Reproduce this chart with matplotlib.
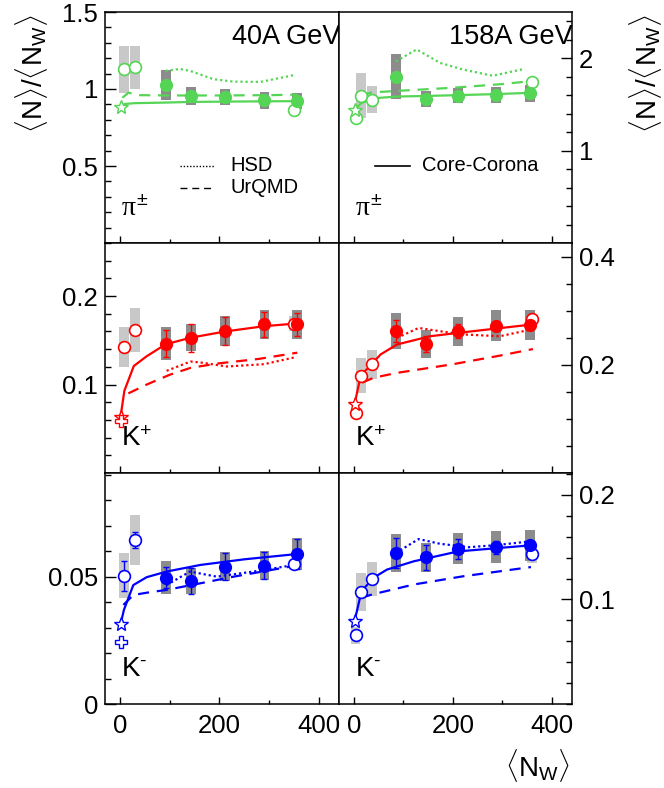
import matplotlib
matplotlib.use("Agg")
import matplotlib.pyplot as plt
from matplotlib.ticker import FixedLocator, MultipleLocator

plt.rcParams['font.family'] = ['Liberation Sans', 'DejaVu Sans']
plt.rcParams['mathtext.fontset'] = 'custom'
plt.rcParams['mathtext.rm'] = 'Liberation Sans'
plt.rcParams['mathtext.it'] = 'Liberation Serif'

GREEN = '#55d555'
RED = '#ff0000'
BLUE = '#0000ff'
LIGHT = '#c8c8c8'
DARK = '#8c8c8c'

# ---- data: central Pb+Pb (filled), small systems (open), p+p (star/cross)
x_pb40 = [92, 143, 212, 291, 356]
x_pb158 = [85, 146, 211, 288, 357]
x_small40 = [8, 30]
x_small158 = [14.8, 37]
x_pp = 1.4

# pions 40A GeV
pi40_y = [1.026, 0.954, 0.947, 0.926, 0.921]
pi40_sys = [0.10, 0.06, 0.053, 0.053, 0.05]
pi40_small_y = [1.128, 1.14]
pi40_small_sys = [0.152, 0.14]
pi40_open_x = [350]
pi40_open_y = [0.866]
pi40_pp = 0.882
cc40_pi_x = [1.4, 10, 30, 94, 141, 212, 291, 356]
cc40_pi_y = [0.882, 0.903, 0.908, 0.912, 0.916, 0.918, 0.92, 0.921]
urqmd40_pi_x = [5, 17, 40, 100, 200, 300, 357]
urqmd40_pi_y = [0.943, 0.976, 0.96, 0.958, 0.958, 0.96, 0.963]
hsd40_pi_x = [92, 121, 141, 188, 228, 283, 350]
hsd40_pi_y = [1.118, 1.13, 1.118, 1.064, 1.048, 1.046, 1.09]

# pions 158A GeV
pi158_y = [1.80, 1.56, 1.595, 1.605, 1.62]
pi158_sys = [0.245, 0.09, 0.085, 0.085, 0.093]
pi158_small_y = [1.595, 1.55]
pi158_small_sys = [0.24, 0.145]
pi158_open_x = [3.4, 360]
pi158_open_y = [1.35, 1.74]
pi158_pp = 1.44
cc158_pi_x = [1.4, 15, 37, 87, 150, 210, 290, 355]
cc158_pi_y = [1.44, 1.515, 1.565, 1.585, 1.592, 1.60, 1.612, 1.625]
urqmd158_pi_x = [15, 37, 100, 200, 300, 355]
urqmd158_pi_y = [1.60, 1.63, 1.65, 1.68, 1.72, 1.75]
hsd158_pi_x = [85, 127, 174, 221, 281, 345]
hsd158_pi_y = [1.967, 2.095, 1.95, 1.877, 1.81, 1.885]

# K+ 40A GeV
kp40_y = [0.1463, 0.153, 0.1605, 0.168, 0.168]
kp40_sys = [0.019, 0.0155, 0.0166, 0.0165, 0.0165]
kp40_err = [0.0155, 0.016, 0.0155, 0.014, 0.013]
kp40_small_y = [0.1425, 0.1617]
kp40_small_sys = [0.0225, 0.0245]
kp40_open_x = [350]
kp40_open_y = [0.169]
kp40_pp = 0.0636
kp40_pp_cross = 0.0584
cc40_kp_x = [1.4, 9, 28, 54, 92, 143, 212, 291, 355]
cc40_kp_y = [0.064, 0.093, 0.121, 0.132, 0.1455, 0.153, 0.16, 0.166, 0.169]
urqmd40_kp_x = [17, 54, 100, 143, 200, 280, 357]
urqmd40_kp_y = [0.09, 0.100, 0.111, 0.119, 0.124, 0.129, 0.136]
hsd40_kp_x = [94, 142, 162, 215, 290, 350]
hsd40_kp_y = [0.1155, 0.126, 0.125, 0.1204, 0.123, 0.1305]

# K+ 158A GeV
kp158_y = [0.262, 0.2385, 0.262, 0.2723, 0.274]
kp158_sys = [0.033, 0.026, 0.0265, 0.028, 0.0277]
kp158_err = [0.02, 0.014, 0.013, 0.007, 0.006]
kp158_small_y = [0.180, 0.2005]
kp158_small_sys = [0.032, 0.0265]
kp158_open_x = [3.4, 360]
kp158_open_y = [0.1115, 0.2853]
kp158_pp = 0.127
cc158_kp_x = [1.4, 14, 37, 54, 87, 154, 221, 356]
cc158_kp_y = [0.127, 0.18, 0.202, 0.219, 0.2374, 0.2527, 0.26, 0.274]
urqmd158_kp_x = [17, 40, 87, 200, 290, 362]
urqmd158_kp_y = [0.167, 0.176, 0.185, 0.201, 0.216, 0.229]
hsd158_kp_x = [87, 131, 174, 222, 295, 358]
hsd158_kp_y = [0.2496, 0.268, 0.262, 0.256, 0.2527, 0.265]

# K- 40A GeV
km40_y = [0.0496, 0.0483, 0.0539, 0.0543, 0.0589]
km40_sys = [0.0066, 0.0052, 0.0056, 0.0057, 0.0061]
km40_err = [0.004, 0.005, 0.0052, 0.0054, 0.006]
km40_small_y = [0.0504, 0.0644]
km40_small_sys = [0.0087, 0.01]
km40_small_err = [0.0059, 0.0031]
km40_open_x = [350]
km40_open_y = [0.0549]
km40_pp = 0.0314
km40_pp_cross = 0.0245
cc40_km_x = [1.4, 8, 27, 54, 94, 162, 250, 357]
cc40_km_y = [0.0314, 0.0369, 0.0467, 0.0498, 0.052, 0.0546, 0.0568, 0.0589]
urqmd40_km_x = [7, 27, 54, 94, 162, 229, 350]
urqmd40_km_y = [0.0389, 0.0428, 0.0437, 0.0448, 0.0474, 0.05, 0.0542]
hsd40_km_x = [94, 141, 195, 290, 350]
hsd40_km_y = [0.0467, 0.052, 0.050, 0.0526, 0.0546]

# K- 158A GeV
km158_y = [0.1445, 0.1403, 0.1486, 0.150, 0.1517]
km158_sys = [0.0186, 0.014, 0.015, 0.0155, 0.015]
km158_err = [0.0143, 0.0122, 0.0095, 0.0063, 0.004]
km158_small_y = [0.107, 0.1197]
km158_small_sys = [0.0185, 0.016]
km158_open_x = [3.4, 360]
km158_open_y = [0.0657, 0.1435]
km158_open_sys = [0.0083, 0.0087]
km158_pp = 0.0794
cc158_km_x = [1.4, 7, 15, 37, 67, 121, 211, 355]
cc158_km_y = [0.0794, 0.0905, 0.107, 0.12, 0.1286, 0.1365, 0.146, 0.1517]
urqmd158_km_x = [15, 37, 121, 221, 358]
urqmd158_km_y = [0.1016, 0.1048, 0.1143, 0.1222, 0.131]
hsd158_km_x = [85, 131, 174, 232, 288, 355]
hsd158_km_y = [0.1445, 0.1578, 0.1533, 0.150, 0.152, 0.1555]

x_ticks = [0, 200, 400]
x_tick_labels = ['0', '200', '400']

BOXW = 20
FS = 18.5


def boxes(ax, x, y, sys, color):
    ax.bar(x, [2 * s for s in sys], bottom=[v - s for v, s in zip(y, sys)],
           width=BOXW, color=color, linewidth=0, zorder=1)


def draw(ax, color, pb_x, pb_y, pb_sys, sm_x, sm_y, sm_sys, op_x, op_y, pp_y,
         cc, urqmd, hsd, pb_err=None, sm_err=None, cross=None, op_sys=None):
    boxes(ax, sm_x, sm_y, sm_sys, LIGHT)
    if op_sys is not None:
        boxes(ax, op_x, op_y, op_sys, LIGHT)
    boxes(ax, pb_x, pb_y, pb_sys, DARK)
    ax.plot(*cc, color=color, lw=1.6, zorder=2)
    ax.plot(*urqmd, color=color, lw=1.6, ls=(0, (5, 3.5)), zorder=2)
    ax.plot(*hsd, color=color, lw=1.6, ls=(0, (1, 1.3)), zorder=2)
    if pb_err is not None:
        ax.errorbar(pb_x, pb_y, yerr=pb_err, fmt='none', ecolor=color, elinewidth=1,
                    capsize=2, capthick=1, zorder=3)
    if sm_err is not None:
        ax.errorbar(sm_x, sm_y, yerr=sm_err, fmt='none', ecolor=color, elinewidth=1,
                    capsize=2, capthick=1, zorder=3)
    ax.plot(op_x + sm_x, op_y + sm_y, 'o', ms=8.5, mfc='white', mec=color, mew=1.2, zorder=4)
    ax.plot(pb_x, pb_y, 'o', ms=8.5, color=color, zorder=5)
    ax.plot([x_pp], [pp_y], '*', ms=10, mfc='white', mec=color, mew=1, zorder=5)
    if cross is not None:
        ax.plot([x_pp], [cross], 'P', ms=8, mfc='white', mec=color, mew=1, zorder=5)


def style(ax, ylim, major, labels, minor, right, bottom):
    ax.set_xlim(-30, 441)
    ax.set_ylim(*ylim)
    ax.xaxis.set_major_locator(FixedLocator(x_ticks))
    ax.xaxis.set_minor_locator(MultipleLocator(100))
    ax.yaxis.set_major_locator(FixedLocator(major))
    ax.yaxis.set_minor_locator(MultipleLocator(minor))
    ax.set_yticklabels(labels)
    if bottom:
        ax.set_xticklabels(x_tick_labels)
    else:
        ax.set_xticklabels([])
    ax.tick_params(axis='x', which='both', direction='in', top=False, bottom=True,
                   labelsize=FS, pad=7)
    ax.tick_params(axis='x', which='major', length=5, width=1)
    ax.tick_params(axis='x', which='minor', length=3, width=1)
    ax.tick_params(axis='y', which='both', direction='in', left=not right, right=right,
                   labelleft=not right, labelright=right, labelsize=FS, pad=5)
    ax.tick_params(axis='y', which='major', length=8, width=1)
    ax.tick_params(axis='y', which='minor', length=4, width=1)
    for s in ax.spines.values():
        s.set_linewidth(1.1)


fig = plt.figure(figsize=(6.64, 7.88), dpi=100)
W, H = 664, 788
cols = [(105, 339), (339, 572)]
rows = [(12, 243), (243, 473), (473, 704)]
axs = {}
for i, (t, b) in enumerate(rows):
    for j, (l, r) in enumerate(cols):
        axs[i, j] = fig.add_axes([l / W, 1 - b / H, (r - l) / W, (b - t) / H])

ax = axs[0, 0]
draw(ax, GREEN, x_pb40, pi40_y, pi40_sys, x_small40, pi40_small_y, pi40_small_sys,
     pi40_open_x, pi40_open_y, pi40_pp, (cc40_pi_x, cc40_pi_y),
     (urqmd40_pi_x, urqmd40_pi_y), (hsd40_pi_x, hsd40_pi_y))
style(ax, (0, 1.5), [0.5, 1, 1.5], ['0.5', '1', '1.5'], 0.1, False, False)

ax = axs[0, 1]
draw(ax, GREEN, x_pb158, pi158_y, pi158_sys, x_small158, pi158_small_y, pi158_small_sys,
     pi158_open_x, pi158_open_y, pi158_pp, (cc158_pi_x, cc158_pi_y),
     (urqmd158_pi_x, urqmd158_pi_y), (hsd158_pi_x, hsd158_pi_y))
style(ax, (0, 2.5), [1, 2], ['1', '2'], 0.2, True, False)

ax = axs[1, 0]
draw(ax, RED, x_pb40, kp40_y, kp40_sys, x_small40, kp40_small_y, kp40_small_sys,
     kp40_open_x, kp40_open_y, kp40_pp, (cc40_kp_x, cc40_kp_y),
     (urqmd40_kp_x, urqmd40_kp_y), (hsd40_kp_x, hsd40_kp_y),
     pb_err=kp40_err, cross=kp40_pp_cross, op_sys=[0.0085])
style(ax, (0, 0.26), [0.1, 0.2], ['0.1', '0.2'], 0.02, False, False)

ax = axs[1, 1]
draw(ax, RED, x_pb158, kp158_y, kp158_sys, x_small158, kp158_small_y, kp158_small_sys,
     kp158_open_x, kp158_open_y, kp158_pp, (cc158_kp_x, cc158_kp_y),
     (urqmd158_kp_x, urqmd158_kp_y), (hsd158_kp_x, hsd158_kp_y), pb_err=kp158_err)
style(ax, (0, 0.425), [0.2, 0.4], ['0.2', '0.4'], 0.05, True, False)

ax = axs[2, 0]
draw(ax, BLUE, x_pb40, km40_y, km40_sys, x_small40, km40_small_y, km40_small_sys,
     km40_open_x, km40_open_y, km40_pp, (cc40_km_x, cc40_km_y),
     (urqmd40_km_x, urqmd40_km_y), (hsd40_km_x, hsd40_km_y),
     pb_err=km40_err, sm_err=km40_small_err, cross=km40_pp_cross)
style(ax, (0, 0.0907), [0, 0.05], ['0', '0.05'], 0.01, False, True)

ax = axs[2, 1]
draw(ax, BLUE, x_pb158, km158_y, km158_sys, x_small158, km158_small_y, km158_small_sys,
     km158_open_x, km158_open_y, km158_pp, (cc158_km_x, cc158_km_y),
     (urqmd158_km_x, urqmd158_km_y), (hsd158_km_x, hsd158_km_y),
     pb_err=km158_err, op_sys=km158_open_sys)
style(ax, (0, 0.221), [0.1, 0.2], ['0.1', '0.2'], 0.02, True, True)

# energy labels
axs[0, 0].text(1.005, 0.89, '40A GeV', transform=axs[0, 0].transAxes, ha='right',
               va='center', fontsize=19.5, zorder=10)
axs[0, 1].text(1.005, 0.89, '158A GeV', transform=axs[0, 1].transAxes, ha='right',
               va='center', fontsize=19.5, zorder=10)

# particle labels
for i, lab in enumerate([r'$\pi^{\pm}$', r'K$^{+}$', r'K$^{\text{-}}$']):
    for j in range(2):
        axs[i, j].text(0.07, 0.15, lab, transform=axs[i, j].transAxes, ha='left',
                       va='center', fontsize=20)

# legend (drawn by hand as in the original)
a = axs[0, 0]
a.plot([0.32, 0.47], [0.335, 0.335], transform=a.transAxes, color='black', lw=1,
       ls=(0, (1, 1.3)))
a.plot([0.32, 0.47], [0.24, 0.24], transform=a.transAxes, color='black', lw=1,
       ls=(0, (5, 3.5)))
a.text(0.535, 0.335, 'HSD', transform=a.transAxes, va='center', fontsize=14.5)
a.text(0.535, 0.24, 'UrQMD', transform=a.transAxes, va='center', fontsize=14.5)
a = axs[0, 1]
a.plot([0.155, 0.305], [0.335, 0.335], transform=a.transAxes, color='black', lw=1.2)
a.text(0.355, 0.335, 'Core-Corona', transform=a.transAxes, va='center', fontsize=14.5)

ylab = r'$\langle$N$\rangle$/$\langle$N$_{\rm W}\rangle$'
fig.text(32 / W, 1 - 14 / H, ylab, rotation=90, ha='center', va='top', fontsize=20)
fig.text(645 / W, 1 - 14 / H, ylab, rotation=90, ha='center', va='top', fontsize=20)
fig.text(570 / W, 1 - 765 / H, r'$\langle$N$_{\rm W}\rangle$', ha='right', va='center',
         fontsize=20)

fig.savefig('out.png', dpi=100)
